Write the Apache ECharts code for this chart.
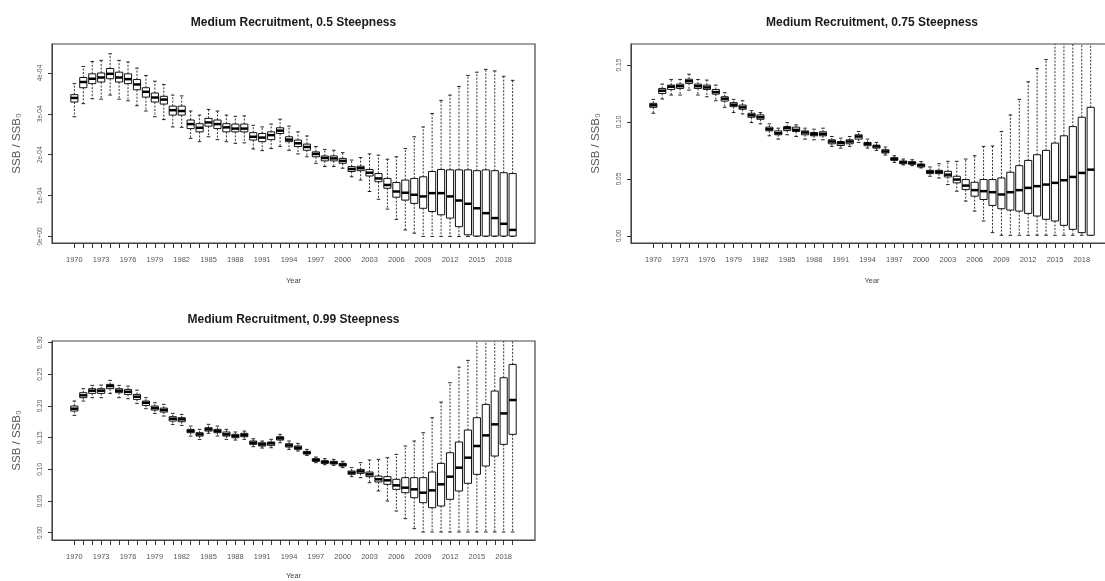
<!DOCTYPE html>
<html><head><meta charset="utf-8">
<script src="https://cdn.jsdelivr.net/npm/echarts@6/dist/echarts.min.js"></script>
<style>html,body{margin:0;padding:0;background:#fff}#c{width:1105px;height:581px}</style>
</head><body><div id="c"></div>
<script>
// ---- data ----
const years = [1970,1971,1972,1973,1974,1975,1976,1977,1978,1979,1980,1981,1982,1983,1984,1985,1986,1987,1988,1989,
  1990,1991,1992,1993,1994,1995,1996,1997,1998,1999,2000,2001,2002,2003,2004,2005,2006,2007,2008,2009,
  2010,2011,2012,2013,2014,2015,2016,2017,2018,2019];
const xLabelYears = [1970,1973,1976,1979,1982,1985,1988,1991,1994,1997,2000,2003,2006,2009,2012,2015,2018];
const titles = ['Medium Recruitment, 0.5 Steepness','Medium Recruitment, 0.75 Steepness','Medium Recruitment, 0.99 Steepness'];
const yTicks1 = [0, 1e-4, 2e-4, 3e-4, 4e-4];
const yTicks2 = [0, 0.05, 0.10, 0.15];
const yTicks3 = [0, 0.05, 0.10, 0.15, 0.20, 0.25, 0.30];
// [lower whisker, Q1, median, Q3, upper whisker]; panel 1 in units of 1e-4
const p1Scaled = [
 [2.93,3.29,3.39,3.47,3.74],[3.25,3.64,3.78,3.89,4.16],[3.37,3.74,3.86,3.98,4.28],[3.36,3.78,3.89,4.00,4.31],
 [3.46,3.86,3.98,4.11,4.47],[3.36,3.78,3.89,4.02,4.31],[3.32,3.74,3.85,3.98,4.27],[3.20,3.59,3.72,3.84,4.12],
 [3.07,3.41,3.54,3.64,3.94],[2.93,3.29,3.40,3.51,3.80],[2.86,3.24,3.35,3.43,3.72],[2.68,2.97,3.09,3.19,3.46],
 [2.67,2.97,3.07,3.19,3.44],[2.40,2.64,2.75,2.85,3.07],[2.32,2.56,2.66,2.76,2.97],[2.44,2.70,2.79,2.89,3.11],
 [2.37,2.64,2.75,2.85,3.07],[2.32,2.56,2.67,2.76,2.97],[2.28,2.56,2.64,2.75,2.94],[2.29,2.56,2.64,2.75,2.95],
 [2.14,2.36,2.44,2.54,2.72],[2.10,2.32,2.42,2.52,2.68],[2.15,2.37,2.48,2.56,2.75],[2.20,2.52,2.59,2.66,2.87],
 [2.11,2.32,2.37,2.44,2.70],[2.02,2.20,2.28,2.36,2.56],[1.95,2.11,2.19,2.26,2.46],[1.79,1.95,2.02,2.07,2.20],
 [1.71,1.85,1.92,1.97,2.13],[1.71,1.85,1.91,1.97,2.11],[1.67,1.79,1.85,1.91,2.05],[1.46,1.59,1.65,1.71,1.87],
 [1.38,1.61,1.67,1.72,1.93],[1.10,1.48,1.56,1.64,2.02],[0.91,1.34,1.42,1.54,1.99],[0.67,1.18,1.26,1.42,1.89],
 [0.42,0.96,1.10,1.32,1.95],[0.16,0.89,1.07,1.38,2.15],[0.08,0.81,1.02,1.42,2.44],[0.00,0.69,0.98,1.46,2.68],
 [0.00,0.61,1.06,1.59,3.01],[0.00,0.53,1.06,1.64,3.33],[0.00,0.45,0.98,1.63,3.46],[0.00,0.24,0.88,1.63,3.67],
 [0.00,0.04,0.80,1.63,3.94],[0.00,0.01,0.69,1.61,4.02],[0.00,0.01,0.57,1.63,4.09],[0.00,0.01,0.45,1.61,4.05],
 [0.00,0.01,0.31,1.56,3.92],[0.00,0.01,0.16,1.54,3.82]
];
const p2 = [
 [0.1077,0.1129,0.1147,0.1164,0.1199],[0.1202,0.1251,0.1275,0.1295,0.1333],[0.1237,0.1286,0.1310,0.1324,0.1374],
 [0.1237,0.1295,0.1315,0.1333,0.1374],[0.1280,0.1339,0.1359,0.1376,0.1420],[0.1237,0.1295,0.1315,0.1333,0.1374],
 [0.1222,0.1286,0.1304,0.1324,0.1368],[0.1187,0.1245,0.1263,0.1286,0.1324],[0.1129,0.1184,0.1205,0.1222,0.1257],
 [0.1083,0.1135,0.1152,0.1170,0.1199],[0.1071,0.1112,0.1129,0.1149,0.1187],[0.0995,0.1042,0.1059,0.1077,0.1100],
 [0.0984,0.1024,0.1042,0.1062,0.1083],[0.0879,0.0923,0.0937,0.0955,0.0984],[0.0850,0.0888,0.0902,0.0922,0.0946],
 [0.0888,0.0925,0.0946,0.0960,0.0995],[0.0873,0.0917,0.0931,0.0955,0.0975],[0.0850,0.0888,0.0908,0.0922,0.0946],
 [0.0844,0.0879,0.0893,0.0908,0.0937],[0.0844,0.0879,0.0896,0.0914,0.0946],[0.0786,0.0809,0.0829,0.0844,0.0873],
 [0.0771,0.0794,0.0815,0.0829,0.0858],[0.0786,0.0809,0.0829,0.0844,0.0873],[0.0821,0.0850,0.0873,0.0888,0.0917],
 [0.0771,0.0792,0.0809,0.0821,0.0850],[0.0751,0.0771,0.0786,0.0797,0.0821],[0.0710,0.0728,0.0742,0.0757,0.0780],
 [0.0646,0.0664,0.0675,0.0687,0.0704],[0.0623,0.0634,0.0646,0.0658,0.0675],[0.0617,0.0629,0.0640,0.0652,0.0669],
 [0.0597,0.0605,0.0620,0.0631,0.0652],[0.0524,0.0547,0.0562,0.0576,0.0605],[0.0509,0.0547,0.0562,0.0576,0.0634],
 [0.0451,0.0518,0.0538,0.0567,0.0655],[0.0393,0.0466,0.0495,0.0524,0.0655],[0.0306,0.0407,0.0442,0.0495,0.0675],
 [0.0218,0.0349,0.0402,0.0471,0.0704],[0.0131,0.0320,0.0393,0.0495,0.0786],[0.0029,0.0268,0.0384,0.0495,0.0790],
 [0.0006,0.0239,0.0364,0.0509,0.0917],[0.0006,0.0227,0.0384,0.0559,0.1062],[0.0006,0.0218,0.0402,0.0617,0.1199],
 [0.0006,0.0198,0.0422,0.0663,0.1353],[0.0006,0.0175,0.0437,0.0713,0.1470],[0.0006,0.0146,0.0451,0.0751,0.1548],
 [0.0006,0.0131,0.0466,0.0815,0.1750],[0.0006,0.0093,0.0489,0.0879,0.1800],[0.0006,0.0058,0.0518,0.0960,0.1850],
 [0.0006,0.0029,0.0553,0.1042,0.1900],[0.0006,0.0006,0.0582,0.1129,0.1900]
];
const p3 = [
 [0.1852,0.1920,0.1957,0.2000,0.2078],[0.2078,0.2131,0.2168,0.2210,0.2273],[0.2131,0.2199,0.2241,0.2273,0.2325],
 [0.2131,0.2199,0.2241,0.2273,0.2330],[0.2199,0.2273,0.2315,0.2341,0.2404],[0.2131,0.2210,0.2241,0.2273,0.2325],
 [0.2115,0.2183,0.2225,0.2262,0.2314],[0.2041,0.2104,0.2146,0.2183,0.2251],[0.1957,0.2009,0.2051,0.2078,0.2131],
 [0.1883,0.1936,0.1967,0.1999,0.2051],[0.1841,0.1904,0.1936,0.1967,0.2025],[0.1710,0.1762,0.1799,0.1831,0.1883],
 [0.1694,0.1752,0.1789,0.1815,0.1867],[0.1525,0.1578,0.1604,0.1631,0.1683],[0.1473,0.1525,0.1552,0.1578,0.1631],
 [0.1568,0.1604,0.1631,0.1657,0.1710],[0.1525,0.1578,0.1604,0.1631,0.1683],[0.1473,0.1525,0.1552,0.1589,0.1631],
 [0.1462,0.1499,0.1525,0.1552,0.1589],[0.1473,0.1515,0.1541,0.1568,0.1604],[0.1357,0.1394,0.1420,0.1447,0.1483],
 [0.1336,0.1368,0.1394,0.1420,0.1447],[0.1341,0.1378,0.1410,0.1431,0.1473],[0.1420,0.1462,0.1489,0.1515,0.1552],
 [0.1315,0.1352,0.1378,0.1404,0.1447],[0.1289,0.1315,0.1341,0.1368,0.1410],[0.1220,0.1241,0.1262,0.1283,0.1315],
 [0.1105,0.1126,0.1147,0.1168,0.1194],[0.1073,0.1094,0.1115,0.1136,0.1168],[0.1063,0.1084,0.1105,0.1126,0.1157],
 [0.1026,0.1052,0.1073,0.1094,0.1126],[0.0884,0.0921,0.0947,0.0973,0.1026],[0.0868,0.0936,0.0968,0.0999,0.1105],
 [0.0789,0.0884,0.0921,0.0957,0.1147],[0.0658,0.0800,0.0842,0.0894,0.1157],[0.0500,0.0763,0.0826,0.0884,0.1184],
 [0.0342,0.0684,0.0747,0.0842,0.1236],[0.0221,0.0631,0.0710,0.0868,0.1368],[0.0063,0.0552,0.0684,0.0868,0.1447],
 [0.0010,0.0473,0.0631,0.0868,0.1578],[0.0010,0.0394,0.0668,0.0957,0.1815],[0.0010,0.0421,0.0763,0.1094,0.2062],
 [0.0010,0.0526,0.0884,0.1262,0.2367],[0.0010,0.0658,0.1026,0.1431,0.2614],[0.0010,0.0779,0.1184,0.1620,0.2720],
 [0.0010,0.0921,0.1368,0.1815,0.3200],[0.0010,0.1052,0.1536,0.2025,0.3300],[0.0010,0.1210,0.1710,0.2236,0.3400],
 [0.0010,0.1394,0.1883,0.2446,0.3500],[0.0010,0.1552,0.2094,0.2656,0.3500]
];
const p1 = p1Scaled.map(r => r.map(v => v * 1e-4));

// ---- chart ----
const FONT = 'Liberation Sans';
const grids = [
  {left: 52, top: 44, width: 483, height: 199},
  {left: 631, top: 44, width: 482, height: 199},
  {left: 52, top: 341, width: 483, height: 199}
];
const yearNameGaps = [34, 34, 32];
const yRanges = [[-0.16e-4, 4.71e-4], [-0.0062, 0.1685], [-0.0116, 0.3026]];
const yTickSets = [yTicks1, yTicks2, yTicks3];
const panels = [p1, p2, p3];
function sciLabel(v) {
  const parts = v.toExponential(0).split('e');
  const e = parseInt(parts[1], 10);
  return parts[0] + 'e' + (e < 0 ? '-' : '+') + String(Math.abs(e)).padStart(2, '0');
}
const yFormatters = [sciLabel, v => v.toFixed(2), v => v.toFixed(2)];

function renderBox(params, api) {
  const x = api.value(0);
  const lo = api.coord([x, api.value(1)]);
  const q1 = api.coord([x, api.value(2)]);
  const md = api.coord([x, api.value(3)]);
  const q3 = api.coord([x, api.value(4)]);
  const hi = api.coord([x, api.value(5)]);
  const unit = api.size([1, 0])[0];
  const bw = unit * 0.8, cw = unit * 0.4;
  const cx = md[0];
  const dash = {stroke: '#333', lineWidth: 1, lineDash: [2, 1.5]};
  const solid = {stroke: '#222', lineWidth: 1};
  return {type: 'group', children: [
    {type: 'line', shape: {x1: cx, y1: q3[1], x2: cx, y2: hi[1]}, style: dash},
    {type: 'line', shape: {x1: cx, y1: q1[1], x2: cx, y2: lo[1]}, style: dash},
    {type: 'line', shape: {x1: cx - cw / 2, y1: hi[1], x2: cx + cw / 2, y2: hi[1]}, style: solid},
    {type: 'line', shape: {x1: cx - cw / 2, y1: lo[1], x2: cx + cw / 2, y2: lo[1]}, style: solid},
    {type: 'rect', shape: {x: cx - bw / 2, y: q3[1], width: bw, height: q1[1] - q3[1]},
      style: {fill: '#fff', stroke: '#111', lineWidth: 1}},
    {type: 'line', shape: {x1: cx - bw / 2, y1: md[1], x2: cx + bw / 2, y2: md[1]},
      style: {stroke: '#000', lineWidth: 2.5}}
  ]};
}

const option = {
  backgroundColor: '#fff',
  animation: false,
  textStyle: {fontFamily: FONT},
  title: titles.map((t, i) => ({
    text: t,
    left: grids[i].left + grids[i].width / 2,
    top: grids[i].top - 27,
    textAlign: 'center',
    padding: 0,
    textStyle: {fontFamily: FONT, fontSize: 12, fontWeight: 'bold', color: '#1a1a1a'}
  })),
  grid: grids.map(g => Object.assign({show: true, borderColor: '#444', borderWidth: 1.2,
    backgroundColor: 'transparent', containLabel: false, outerBoundsMode: 'none'}, g)),
  xAxis: grids.map((g, i) => ({
    type: 'value', gridIndex: i, min: 1967.5, max: 2021.5,
    axisLine: {show: true, onZero: false, lineStyle: {color: '#444', width: 1}}, splitLine: {show: false},
    axisTick: {show: true, inside: false, length: 5, customValues: years, lineStyle: {color: '#333', width: 1}},
    axisLabel: {customValues: xLabelYears, fontSize: 7.5, color: '#555', margin: 13, fontFamily: FONT,
      formatter: v => String(v)},
    name: 'Year', nameLocation: 'middle', nameGap: yearNameGaps[i],
    nameTextStyle: {fontSize: 7.5, color: '#444', fontFamily: FONT}
  })),
  yAxis: grids.map((g, i) => ({
    type: 'value', gridIndex: i, min: yRanges[i][0], max: yRanges[i][1],
    axisLine: {show: true, onZero: false, lineStyle: {color: '#444', width: 1}}, splitLine: {show: false},
    axisTick: {show: true, inside: false, length: 4, customValues: yTickSets[i], lineStyle: {color: '#333', width: 1}},
    axisLabel: {customValues: yTickSets[i], rotate: 90, fontSize: 6.5, color: '#555', margin: 8,
      fontFamily: FONT, formatter: yFormatters[i]},
    name: 'SSB / SSB\u2080', nameLocation: 'middle', nameGap: 29, nameRotate: 90,
    nameTextStyle: {fontSize: 11.5, color: '#555', fontFamily: FONT}
  })),
  series: panels.map((p, i) => ({
    type: 'custom', xAxisIndex: i, yAxisIndex: i, clip: true,
    renderItem: renderBox,
    encode: {x: 0, y: [1, 2, 3, 4, 5]},
    data: p.map((r, k) => [years[k]].concat(r))
  }))
};
const chart = echarts.init(document.getElementById('c'), null, {renderer: 'canvas'});
chart.setOption(option);
</script>
</body></html>
